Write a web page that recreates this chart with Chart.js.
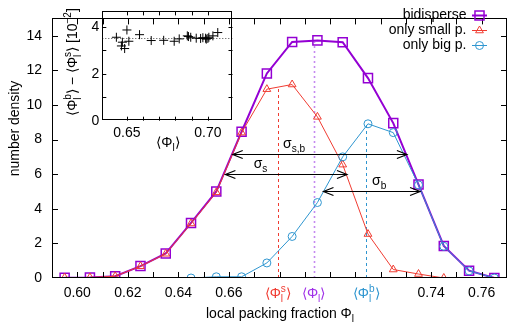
<!DOCTYPE html>
<html>
<head>
<meta charset="utf-8">
<script src="https://cdn.jsdelivr.net/npm/chart.js@4.4.0/dist/chart.umd.min.js"></script>
<style>
  html, body { margin: 0; padding: 0; background: #fff; }
  #wrap { position: relative; width: 517px; height: 330px; }
  #main { position: absolute; left: 0; top: 0; }
  #inset { position: absolute; left: 58px; top: 0; }
</style>
</head>
<body>
<div id="wrap">
  <canvas id="main" width="517" height="330"></canvas>
  <canvas id="inset" width="180" height="152"></canvas>
</div>
<script>
// histogram bins (local packing fraction) and densities
const phiBidisperse = [0.595, 0.605, 0.615, 0.625, 0.635, 0.645, 0.655, 0.665, 0.675, 0.685, 0.695, 0.705, 0.715, 0.725, 0.735, 0.745, 0.755, 0.765];
const densBidisperse = [0.02, 0.03, 0.1, 0.69, 1.42, 3.18, 5.0, 8.45, 11.82, 13.64, 13.73, 13.62, 11.55, 8.95, 5.4, 1.85, 0.42, 0.0];

const phiSmall = [0.595, 0.605, 0.615, 0.625, 0.635, 0.645, 0.655, 0.665, 0.675, 0.685, 0.695, 0.705, 0.715, 0.725, 0.735, 0.745];
const densSmall = [0.02, 0.03, 0.1, 0.68, 1.4, 3.15, 4.95, 8.4, 10.91, 11.18, 9.31, 6.55, 2.54, 0.49, 0.23, 0.0];

const phiBig = [0.645, 0.655, 0.665, 0.675, 0.685, 0.695, 0.705, 0.715, 0.725, 0.735, 0.745, 0.755, 0.765];
const densBig = [0.0, 0.07, 0.07, 0.87, 2.4, 4.36, 7.0, 8.91, 8.4, 5.38, 1.83, 0.41, 0.0];

// mean values (small, all, big) and the height where the marker line stops
const meanPhi = [0.6793, 0.6935, 0.7143];
const meanTop = [10.95, 13.65, 8.85];

// widths: label, from, to, level
const sigmaNames = ['s,b', 's', 'b'];
const sigmaFrom = [0.6615, 0.6586, 0.6974];
const sigmaTo = [0.7304, 0.7067, 0.7356];
const sigmaLevel = [7.18, 6.0, 5.0];
const sigmaLabelPhi = [0.6814, 0.6698, 0.7166];

const xTickLabels = ['0.60', '0.62', '0.64', '0.66', '0.74', '0.76'];
const yTickLabels = ['0', '2', '4', '6', '8', '10', '12', '14'];

// inset: difference of means vs mean
const insetPhi = [0.6435, 0.6500, 0.6472, 0.6512, 0.6466, 0.6486, 0.6578, 0.6650, 0.6727, 0.6792, 0.6823, 0.6873, 0.6880, 0.6894, 0.6928, 0.6955, 0.6969, 0.6986, 0.6990, 0.7000, 0.7006, 0.7031, 0.7061];
const insetDiff = [3.55, 3.86, 3.34, 3.38, 3.18, 3.07, 3.66, 3.41, 3.42, 3.38, 3.48, 3.61, 3.58, 3.55, 3.51, 3.50, 3.53, 3.51, 3.47, 3.50, 3.55, 3.61, 3.75];
const insetMeanDiff = 3.5;
const insetXTickLabels = ['0.65', '0.70'];
const insetYTickLabels = ['0', '2', '4'];

const PURPLE = '#9400d3';
const RED = '#f03c32';
const BLUE = '#2f96d0';
const FONT = '"Liberation Sans", Arial, Helvetica, sans-serif';

const toPoints = (xs, ys) => xs.map((x, i) => ({ x: x, y: ys[i] }));

// text with sub/superscripts: parts are strings or {sub, sup}
function partWidth(ctx, p, size) {
    if (typeof p === 'string') {
        ctx.font = size + 'px ' + FONT;
        return ctx.measureText(p).width;
    }
    ctx.font = (size * 0.72) + 'px ' + FONT;
    return Math.max(p.sub ? ctx.measureText(p.sub).width : 0, p.sup ? ctx.measureText(p.sup).width : 0);
}

function drawRich(ctx, parts, x, y, size, align, color) {
    let total = 0;
    parts.forEach(p => { total += partWidth(ctx, p, size); });
    let cx = align === 'center' ? x - total / 2 : (align === 'right' ? x - total : x);
    ctx.save();
    ctx.fillStyle = color || '#000';
    ctx.textAlign = 'left';
    ctx.textBaseline = 'alphabetic';
    parts.forEach(p => {
        const w = partWidth(ctx, p, size);
        if (typeof p === 'string') {
            ctx.fillText(p, cx, y);
        } else {
            if (p.sub) ctx.fillText(p.sub, cx, y + size * 0.3);
            if (p.sup) ctx.fillText(p.sup, cx, y - size * 0.42);
        }
        cx += w;
    });
    ctx.restore();
}

// gnuplot-like inward ticks on all four sides plus a full frame
function drawFrame(chart, len) {
    const { ctx, chartArea: a, scales: { x, y } } = chart;
    ctx.save();
    ctx.strokeStyle = '#000';
    ctx.lineWidth = 1;
    ctx.beginPath();
    x.ticks.forEach(t => {
        if (t.value <= x.min + 1e-9 || t.value >= x.max - 1e-9) return;
        const px = Math.round(x.getPixelForValue(t.value)) + 0.5;
        ctx.moveTo(px, a.bottom); ctx.lineTo(px, a.bottom - len);
        ctx.moveTo(px, a.top); ctx.lineTo(px, a.top + len);
    });
    y.ticks.forEach(t => {
        if (t.value <= y.min + 1e-9 || t.value >= y.max - 1e-9) return;
        const py = Math.round(y.getPixelForValue(t.value)) + 0.5;
        ctx.moveTo(a.left, py); ctx.lineTo(a.left + len, py);
        ctx.moveTo(a.right, py); ctx.lineTo(a.right - len, py);
    });
    ctx.stroke();
    ctx.strokeRect(Math.round(a.left) + 0.5, Math.round(a.top) + 0.5, Math.round(a.right - a.left) - 1, Math.round(a.bottom - a.top) - 1);
    ctx.restore();
}

const mainDecor = {
    id: 'mainDecor',
    beforeDatasetsDraw(chart) {
        const { ctx, scales: { x, y } } = chart;
        const styles = [
            { color: RED, dash: [3, 3], width: 1 },
            { color: '#c58af0', dash: [2, 3], width: 1.6 },
            { color: BLUE, dash: [3, 3], width: 1 }
        ];
        ctx.save();
        meanPhi.forEach((m, i) => {
            const s = styles[i];
            ctx.strokeStyle = s.color;
            ctx.lineWidth = s.width;
            ctx.setLineDash(s.dash);
            const px = Math.round(x.getPixelForValue(m)) + 0.5;
            ctx.beginPath();
            ctx.moveTo(px, y.getPixelForValue(0));
            ctx.lineTo(px, y.getPixelForValue(meanTop[i]));
            ctx.stroke();
        });
        ctx.restore();
    },
    afterDatasetsDraw(chart) {
        const { ctx, scales: { x, y } } = chart;
        ctx.save();
        ctx.strokeStyle = '#000';
        ctx.lineWidth = 1.2;
        sigmaNames.forEach((name, i) => {
            const x0 = x.getPixelForValue(sigmaFrom[i]);
            const x1 = x.getPixelForValue(sigmaTo[i]);
            const py = Math.round(y.getPixelForValue(sigmaLevel[i])) + 0.5;
            ctx.beginPath();
            ctx.moveTo(x0, py); ctx.lineTo(x1, py);
            ctx.moveTo(x0 + 10, py - 4); ctx.lineTo(x0, py); ctx.lineTo(x0 + 10, py + 4);
            ctx.moveTo(x1 - 10, py - 4); ctx.lineTo(x1, py); ctx.lineTo(x1 - 10, py + 4);
            ctx.stroke();
            drawRich(ctx, ['σ', { sub: name }], x.getPixelForValue(sigmaLabelPhi[i]), py - 6.5, 14, 'left', '#000');
        });
        ctx.restore();
    },
    afterDraw(chart) {
        const { ctx, scales: { x } } = chart;
        drawFrame(chart, 6);

        // mean labels under the axis
        const meanParts = [
            ['⟨Φ', { sub: 'l', sup: 's' }, '⟩'],
            ['⟨Φ', { sub: 'l' }, '⟩'],
            ['⟨Φ', { sub: 'l', sup: 'b' }, '⟩']
        ];
        const meanColors = [RED, '#a030e8', BLUE];
        meanPhi.forEach((m, i) => {
            drawRich(ctx, meanParts[i], x.getPixelForValue(m), 297.5, 14, 'center', meanColors[i]);
        });

        // axis titles
        drawRich(ctx, ['local packing fraction Φ', { sub: 'l' }], 280, 318, 14, 'center', '#000');
        ctx.save();
        ctx.translate(18.5, 128.5);
        ctx.rotate(-Math.PI / 2);
        drawRich(ctx, ['number density'], 0, 0, 14, 'center', '#000');
        ctx.restore();

        // legend: text right, sample on the right
        chart.data.datasets.forEach((ds, i) => {
            const cy = 15 + i * 15;
            ctx.save();
            ctx.font = '14px ' + FONT;
            ctx.fillStyle = '#000';
            ctx.textAlign = 'right';
            ctx.textBaseline = 'middle';
            ctx.fillText(ds.label, 466.5, cy + 0.5);
            ctx.strokeStyle = ds.borderColor;
            ctx.lineWidth = ds.borderWidth;
            ctx.beginPath();
            ctx.moveTo(472, cy + 0.5); ctx.lineTo(487, cy + 0.5);
            ctx.stroke();
            ctx.lineWidth = ds.pointBorderWidth;
            ctx.fillStyle = 'rgba(0,0,0,0)';
            Chart.helpers.drawPoint(ctx, { pointStyle: ds.pointStyle, radius: ds.pointRadius, borderWidth: ds.pointBorderWidth, rotation: 0 }, 479.5, cy + 0.5);
            ctx.restore();
        });
    }
};

new Chart(document.getElementById('main'), {
    type: 'scatter',
    data: {
        datasets: [
            {
                label: 'bidisperse',
                data: toPoints(phiBidisperse, densBidisperse),
                showLine: true,
                borderColor: PURPLE,
                borderWidth: 2,
                pointStyle: 'rect',
                pointRadius: 6.4,
                pointBorderWidth: 1.5,
                pointBorderColor: PURPLE,
                pointBackgroundColor: 'rgba(0,0,0,0)',
                order: 3
            },
            {
                label: 'only small p.',
                data: toPoints(phiSmall, densSmall),
                showLine: true,
                borderColor: RED,
                borderWidth: 1,
                pointStyle: 'triangle',
                pointRadius: 4.5,
                pointBorderWidth: 1,
                pointBorderColor: RED,
                pointBackgroundColor: 'rgba(0,0,0,0)',
                order: 2
            },
            {
                label: 'only big p.',
                data: toPoints(phiBig, densBig),
                showLine: true,
                borderColor: BLUE,
                borderWidth: 1,
                pointStyle: 'circle',
                pointRadius: 4,
                pointBorderWidth: 1,
                pointBorderColor: BLUE,
                pointBackgroundColor: 'rgba(0,0,0,0)',
                order: 1
            }
        ]
    },
    options: {
        responsive: false,
        animation: false,
        layout: { padding: { left: 0, right: 10, top: 3, bottom: 0 } },
        plugins: { legend: { display: false }, tooltip: { enabled: false } },
        scales: {
            x: {
                type: 'linear',
                min: 0.59,
                max: 0.77,
                grid: { display: false, drawTicks: false },
                border: { display: false },
                afterFit: s => { s.height = 52; },
                ticks: {
                    stepSize: 0.01,
                    autoSkip: false,
                    maxRotation: 0,
                    padding: 7,
                    color: '#000',
                    font: { family: FONT, size: 14 },
                    callback: v => xTickLabels.includes(v.toFixed(2)) ? v.toFixed(2) : ''
                }
            },
            y: {
                type: 'linear',
                min: 0,
                max: 15,
                grid: { display: false, drawTicks: false },
                border: { display: false },
                afterFit: s => { s.width = 52; },
                ticks: {
                    stepSize: 2,
                    autoSkip: false,
                    padding: 10,
                    color: '#000',
                    font: { family: FONT, size: 14 },
                    callback: v => yTickLabels.includes(String(v)) ? String(v) : ''
                }
            }
        }
    },
    plugins: [mainDecor]
});

const insetDecor = {
    id: 'insetDecor',
    beforeDatasetsDraw(chart) {
        const { ctx, chartArea: a, scales: { y } } = chart;
        const py = Math.round(y.getPixelForValue(insetMeanDiff)) + 0.5;
        ctx.save();
        ctx.strokeStyle = '#444';
        ctx.lineWidth = 1;
        ctx.setLineDash([1, 2]);
        ctx.beginPath();
        ctx.moveTo(a.left, py); ctx.lineTo(a.right, py);
        ctx.stroke();
        ctx.restore();
    },
    afterDraw(chart) {
        const { ctx } = chart;
        drawFrame(chart, 4);
        drawRich(ctx, ['⟨Φ', { sub: 'l' }, '⟩'], 110, 146.5, 14, 'center', '#000');
        ctx.save();
        ctx.translate(18.5, 62);
        ctx.rotate(-Math.PI / 2);
        drawRich(ctx, ['⟨Φ', { sub: 'l', sup: 'b' }, '⟩ − ⟨Φ', { sub: 'l', sup: 's' }, '⟩ [10', { sup: '−2' }, ']'], 0, 0, 14, 'center', '#000');
        ctx.restore();
    }
};

new Chart(document.getElementById('inset'), {
    type: 'scatter',
    data: {
        datasets: [{
            label: 'difference',
            data: toPoints(insetPhi, insetDiff),
            pointStyle: 'cross',
            pointRadius: 4.5,
            pointBorderWidth: 1,
            pointBorderColor: '#000',
            borderColor: '#000'
        }]
    },
    options: {
        responsive: false,
        animation: false,
        layout: { padding: { left: 0, right: 4.7, top: 7.3, bottom: 0 } },
        plugins: { legend: { display: false }, tooltip: { enabled: false } },
        scales: {
            x: {
                type: 'linear',
                min: 0.6348,
                max: 0.7152,
                grid: { display: false, drawTicks: false },
                border: { display: false },
                afterFit: s => { s.height = 31.3; },
                ticks: {
                    stepSize: 0.01,
                    autoSkip: false,
                    maxRotation: 0,
                    padding: 4,
                    color: '#000',
                    font: { family: FONT, size: 14 },
                    callback: v => insetXTickLabels.includes(v.toFixed(2)) && Math.abs(v * 100 - Math.round(v * 100)) < 1e-6 ? v.toFixed(2) : ''
                }
            },
            y: {
                type: 'linear',
                min: 0,
                max: 4.65,
                grid: { display: false, drawTicks: false },
                border: { display: false },
                afterFit: s => { s.width = 44.3; },
                ticks: {
                    stepSize: 1,
                    autoSkip: false,
                    padding: 3,
                    color: '#000',
                    font: { family: FONT, size: 14 },
                    callback: v => insetYTickLabels.includes(String(v)) ? String(v) : ''
                }
            }
        }
    },
    plugins: [insetDecor]
});
</script>
</body>
</html>
